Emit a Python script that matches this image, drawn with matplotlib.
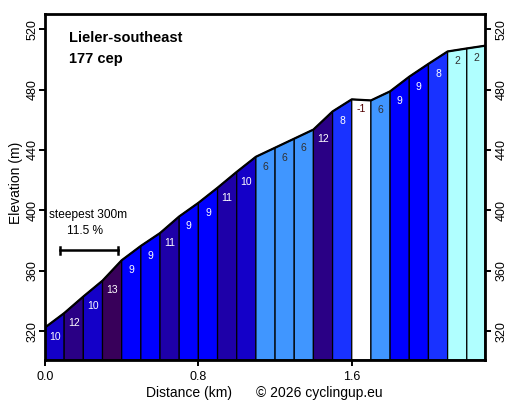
import matplotlib
matplotlib.use("Agg")
import matplotlib.pyplot as plt

plt.rcParams['font.family'] = ['Liberation Sans', 'DejaVu Sans']

# Data
dist_km = [0.0, 0.1, 0.2, 0.3, 0.4, 0.5, 0.6, 0.7, 0.8, 0.9, 1.0, 1.1,
           1.2, 1.3, 1.4, 1.5, 1.6, 1.7, 1.8, 1.9, 2.0, 2.1, 2.2, 2.295]
elev_m = [322.5, 332.0, 343.0, 353.5, 367.0, 376.5, 385.0, 396.0, 405.0, 415.0, 425.5, 435.5,
          441.5, 447.5, 453.5, 465.5, 473.5, 472.8, 478.8, 488.5, 497.0, 505.2, 507.2, 509.0]
grade_labels = [10, 12, 10, 13, 9, 9, 11, 9, 9, 11, 10,
                6, 6, 6, 12, 8, -1, 6, 9, 9, 8, 2, 2]
title_lines = ["Lieler-southeast", "177 cep"]
x_ticks = [0.0, 0.8, 1.6]
y_ticks = [320, 360, 400, 440, 480, 520]
steepest_text = ["steepest 300m", "11.5 %"]
steepest_start, steepest_len, steepest_elev = 0.08, 0.3, 373.6

grade_colors = {
    -1: '#ffffff', 2: '#b0ffff', 6: '#4096ff', 8: '#1932ff', 9: '#0000ff',
    10: '#1400c8', 11: '#1e00a8', 12: '#2a0085', 13: '#38005a',
}
label_colors = {-1: '#500000', 2: '#303030', 6: '#303030'}

W, H = 526, 407
fig = plt.figure(figsize=(W / 100, H / 100), dpi=100)
ax_l, ax_r, ax_t, ax_b = 45, 485, 14, 360
ax = fig.add_axes([ax_l / W, 1 - ax_b / H, (ax_r - ax_l) / W, (ax_b - ax_t) / H])

ymin, ymax = 301, 530
xmax = dist_km[-1]

for i, g in enumerate(grade_labels):
    x0, x1 = dist_km[i], dist_km[i + 1]
    y0, y1 = elev_m[i], elev_m[i + 1]
    ax.fill([x0, x1, x1, x0], [ymin, ymin, y1, y0], facecolor=grade_colors[g],
            edgecolor='black', linewidth=0.9, zorder=2)
    ax.text((x0 + x1) / 2, y0 - 6.5, str(g), ha='center', va='center', fontsize=7.5,
            color=label_colors.get(g, 'white'), zorder=4)

ax.plot(dist_km, elev_m, color='black', linewidth=1.6, zorder=3, solid_capstyle='butt')

# steepest annotation
sx0, sx1 = steepest_start, steepest_start + steepest_len
ax.plot([sx0, sx1], [steepest_elev, steepest_elev], color='black', lw=1.8, zorder=5)
ax.plot([sx0, sx0], [steepest_elev - 2.4, steepest_elev + 2.4], color='black', lw=1.8, zorder=5)
ax.plot([sx1, sx1], [steepest_elev - 2.4, steepest_elev + 2.4], color='black', lw=1.8, zorder=5)
ax.text((sx0 + sx1) / 2 - 0.005, steepest_elev + 23.2, steepest_text[0], ha='center', va='center', fontsize=8.6)
ax.text((sx0 + sx1) / 2 - 0.02, steepest_elev + 12.8, steepest_text[1], ha='center', va='center', fontsize=8.6)

ax.set_xlim(0, xmax)
ax.set_ylim(ymin, ymax)
ax.set_xticks(x_ticks)
ax.set_xticklabels([f"{v:.1f}" for v in x_ticks])
ax.set_yticks(y_ticks)
ax.tick_params(axis='both', which='both', direction='out', length=4.5, width=1.4, labelsize=9)
ax.tick_params(axis='y', right=True, labelleft=False, labelright=False)
ax.tick_params(axis='x', pad=3.5)

# y tick labels, rotated, on both sides
ytr = ax.get_yaxis_transform()
axw = ax_r - ax_l
for v in y_ticks:
    ax.text((32.5 - ax_l) / axw, v, str(v), transform=ytr, rotation=90,
            ha='center', va='center', fontsize=9, clip_on=False)
    ax.text((501.5 - ax_l) / axw, v, str(v), transform=ytr, rotation=90,
            ha='center', va='center', fontsize=9, clip_on=False)

for sp in ax.spines.values():
    sp.set_linewidth(2)
    sp.set_zorder(6)

fig.text(69 / W, 1 - 38.5 / H, title_lines[0], fontsize=10.5, fontweight='bold', ha='left', va='center')
fig.text(69 / W, 1 - 58.5 / H, title_lines[1], fontsize=10.5, fontweight='bold', ha='left', va='center')

fig.text(189 / W, 1 - 393 / H, "Distance (km)", fontsize=10, ha='center', va='center')
fig.text(256 / W, 1 - 393 / H, "\u00a9 2026 cyclingup.eu", fontsize=10, ha='left', va='center')
fig.text(16.5 / W, 1 - 183 / H, "Elevation (m)", fontsize=10, ha='center', va='center', rotation=90)

fig.savefig("out.png", dpi=100)
